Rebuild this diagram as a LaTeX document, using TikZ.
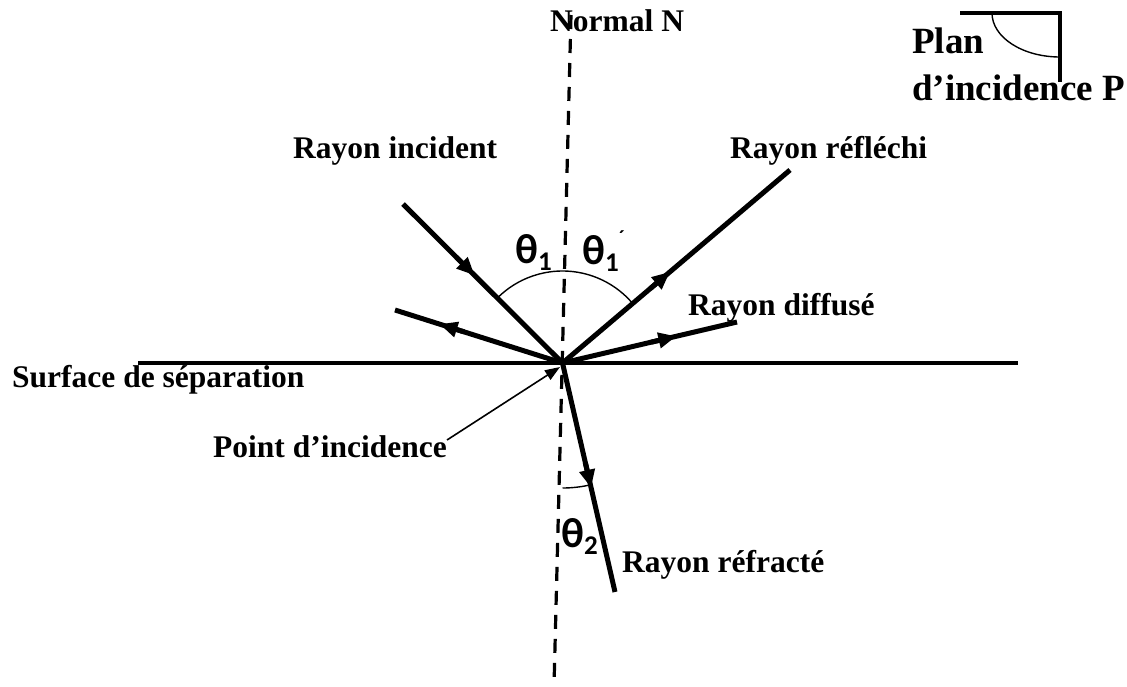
\documentclass[tikz,border=0pt]{standalone}
\usepackage{fontspec}
\setmainfont{Liberation Serif}[BoldFont={Liberation Serif Bold}]
\newfontfamily\thetafont{Carlito}[BoldFont={Carlito Bold}]
\usetikzlibrary{arrows.meta,calc}
\newcommand{\thsub}[1]{{\fontsize{27}{27}\selectfont\raisebox{-7pt}{#1}}}
\begin{document}
\begin{tikzpicture}[x=1pt,y=-1pt,
  lbl/.style={anchor=base west, inner sep=0pt, font=\fontsize{31.5}{36}\selectfont\bfseries},
  biglbl/.style={anchor=base west, inner sep=0pt, font=\fontsize{37}{42}\selectfont\bfseries},
  thlbl/.style={anchor=base west, inner sep=0pt, font=\thetafont\bfseries\fontsize{42}{44}\selectfont},
  ray/.style={line width=5pt},
  rayarrow/.style={line width=5pt, -{Triangle[length=18pt,width=15pt]}},
  thinarrow/.style={line width=1.6pt, -{Triangle[length=15pt,width=11pt]}},
  surface/.style={line width=4.5pt},
  normal/.style={line width=3.2pt, dash pattern=on 14pt off 10pt},
  anglearc/.style={line width=1.4pt}
]
\useasboundingbox (0,0) rectangle (1127,686);

% key points
\coordinate (O) at (562.5,363);
\coordinate (A) at (403,204);
\coordinate (R) at (790,170);
\coordinate (DL) at (395,310);
\coordinate (DR) at (737,322);
\coordinate (T) at (615,592);
\coordinate (S1) at (138,363);
\coordinate (S2) at (1018,363);
\coordinate (N1) at (571,15);
\coordinate (N2) at (554,686);

% arrow tips on rays and short bases behind them
\coordinate (tA) at ($(O)!124pt!(A)$);   \coordinate (bA) at ($(O)!150pt!(A)$);
\coordinate (tR) at ($(O)!141pt!(R)$);   \coordinate (bR) at ($(O)!115pt!(R)$);
\coordinate (tDL) at ($(O)!129pt!(DL)$); \coordinate (bDL) at ($(O)!103pt!(DL)$);
\coordinate (tDR) at ($(O)!117pt!(DR)$); \coordinate (bDR) at ($(O)!91pt!(DR)$);
\coordinate (tT) at ($(O)!128pt!(T)$);   \coordinate (bT) at ($(O)!102pt!(T)$);

% normal and surface
\draw[normal] (N1) -- (N2);
\draw[surface] (S1) -- (S2);

% rays
\draw[ray] (A) -- (O);
\draw[ray] (O) -- (R);
\draw[ray] (O) -- (DL);
\draw[ray] (O) -- (DR);
\draw[ray] (O) -- (T);
\draw[rayarrow] (bA) -- (tA);
\draw[rayarrow] (bR) -- (tR);
\draw[rayarrow] (bDL) -- (tDL);
\draw[rayarrow] (bDR) -- (tDR);
\draw[rayarrow] (bT) -- (tT);

% angle arcs
\draw[anglearc] ($(O)+(225:92)$) arc[start angle=225, end angle=320, radius=92];
\draw[anglearc] ($(O)+(77:125)$) arc[start angle=77, end angle=90, radius=125];

% point d'incidence
\node[lbl] (pi) at (213,457) {Point d’incidence};
\coordinate (Pst) at (447,440);
\coordinate (Ptip) at (560,367);
\draw[thinarrow] (Pst) -- (Ptip);

% labels
\node[lbl] (nn) at (550,31) {Normal N};
\node[lbl] (ri) at (293,158) {Rayon incident};
\node[lbl] (rr) at (730,158) {Rayon réfléchi};
\node[lbl] (rd) at (688,315) {Rayon diffusé};
\node[lbl] (sf) at (12,387) {Surface de séparation};
\node[lbl] (rf) at (622,572) {Rayon réfracté};

% theta labels
\node[thlbl] (th1) at (515,263) {θ\thsub{1}};
\node[thlbl] (th1p) at (582,264) {θ\thsub{1}\raisebox{20pt}{\fontsize{20}{20}\selectfont ´}};
\node[thlbl] (th2) at (561,547) {θ\thsub{2}};

% plan d'incidence
\node[biglbl] (pl1) at (912,53) {Plan};
\node[biglbl] (pl2) at (912,100) {d’incidence P};
\draw[line width=4.2pt] (960,13) -- (1060,13) -- (1060,82);
\draw[anglearc] (992,13) arc[start angle=180, end angle=90, x radius=68, y radius=44];
\end{tikzpicture}
\end{document}
